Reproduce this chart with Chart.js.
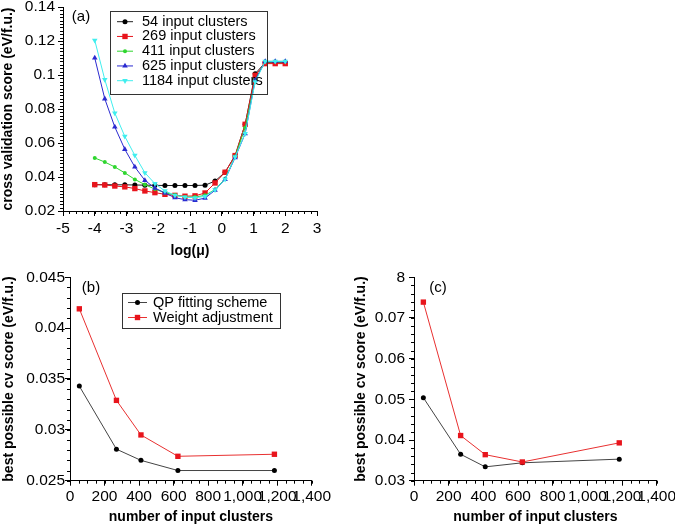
<!DOCTYPE html>
<html>
<head>
<meta charset="utf-8">
<script src="https://cdn.jsdelivr.net/npm/chart.js@4"></script>
<style>
  body { margin: 0; background: #fff; }
  #wrap { position: relative; width: 675px; height: 526px; }
  canvas { position: absolute; left: 0; top: 0; }
</style>
</head>
<body>
<div id="wrap">
  <canvas id="chartA" width="675" height="526"></canvas>
  <canvas id="chartB" width="675" height="526"></canvas>
  <canvas id="chartC" width="675" height="526"></canvas>
</div>
<script>
// panel (a): cv score vs log(mu)
const logMu = [-4, -3.684, -3.368, -3.053, -2.737, -2.421, -2.105, -1.789, -1.474, -1.158,
  -0.842, -0.526, -0.211, 0.105, 0.421, 0.737, 1.053, 1.368, 1.684, 2];
const cv54 = [0.0355, 0.0355, 0.0354, 0.0354, 0.0353, 0.0352, 0.0351, 0.0350, 0.0350, 0.0350,
  0.0350, 0.0352, 0.0376, 0.0428, 0.0526, 0.0710, 0.1008, 0.1072, 0.1072, 0.1072];
const cv269 = [0.0355, 0.0353, 0.0347, 0.0342, 0.0332, 0.0318, 0.0308, 0.0298, 0.0292, 0.0287,
  0.0289, 0.0306, 0.0365, 0.0428, 0.0526, 0.0710, 0.0998, 0.1067, 0.1067, 0.1067];
const cv411 = [0.0512, 0.0488, 0.0459, 0.0424, 0.0386, 0.0355, 0.0329, 0.0308, 0.0294, 0.0282,
  0.0282, 0.0292, 0.0326, 0.0390, 0.0520, 0.0690, 0.0970, 0.1080, 0.1080, 0.1080];
const cv625 = [0.1100, 0.0860, 0.0694, 0.0563, 0.0459, 0.0380, 0.0335, 0.0306, 0.0278, 0.0267,
  0.0263, 0.0276, 0.0322, 0.0386, 0.0514, 0.0655, 0.0970, 0.1080, 0.1080, 0.1080];
const cv1184 = [0.1204, 0.0973, 0.0776, 0.0639, 0.0527, 0.0425, 0.0361, 0.0318, 0.0292, 0.0282,
  0.0278, 0.0286, 0.0325, 0.0386, 0.0518, 0.0655, 0.0960, 0.1080, 0.1080, 0.1080];
const seriesA = ["54 input clusters", "269 input clusters", "411 input clusters",
  "625 input clusters", "1184 input clusters"];

// panels (b) and (c): best cv score vs number of clusters
const clusters = [54, 269, 411, 625, 1184];
const qpB = [0.0343, 0.0281, 0.0270, 0.0260, 0.0260];
const waB = [0.0419, 0.0329, 0.0295, 0.0274, 0.0276];
const qpC = [0.0504, 0.0365, 0.0334, 0.0344, 0.0353];
const waC = [0.0739, 0.0411, 0.0364, 0.0346, 0.0393];
const seriesBC = ["QP fitting scheme", "Weight adjustment"];

Chart.defaults.font.family = "'Liberation Sans', Arial, Helvetica, sans-serif";
Chart.defaults.color = '#000';

function pts(xs, ys) { return xs.map((x, i) => ({x: x, y: ys[i]})); }
function num(v) { return String(+v.toFixed(5)); }

// minor ticks + legend box + panel letter
const extras = {
  id: 'extras',
  afterDraw(chart, args, o) {
    const ctx = chart.ctx, xs = chart.scales.x, ys = chart.scales.y;
    ctx.save();
    ctx.strokeStyle = '#000';
    ctx.lineWidth = 1;
    ctx.beginPath();
    let n = Math.round((xs.max - xs.min) / o.minorX);
    for (let i = 0; i <= n; i++) {
      const px = Math.round(xs.getPixelForValue(xs.min + i * o.minorX)) + 0.5;
      ctx.moveTo(px, ys.bottom);
      ctx.lineTo(px, ys.bottom + 3);
    }
    n = Math.round((ys.max - ys.min) / o.minorY);
    for (let i = 0; i <= n; i++) {
      const py = Math.round(ys.getPixelForValue(ys.min + i * o.minorY)) + 0.5;
      ctx.moveTo(xs.left, py);
      ctx.lineTo(xs.left - 3, py);
    }
    ctx.stroke();

    ctx.font = "15px 'Liberation Sans', Arial, sans-serif";
    ctx.fillStyle = '#000';
    ctx.textAlign = 'center';
    ctx.textBaseline = 'middle';
    ctx.fillText(o.letter, o.lx, o.ly);

    const lg = o.legend;
    if (lg) {
      ctx.strokeStyle = '#333';
      ctx.strokeRect(lg.x + 0.5, lg.y + 0.5, lg.w, lg.h);
      ctx.font = "14.5px 'Liberation Sans', Arial, sans-serif";
      ctx.textAlign = 'left';
      chart.data.datasets.forEach((ds, i) => {
        const y = lg.y0 + i * lg.dy;
        ctx.strokeStyle = ds.borderColor;
        ctx.lineWidth = 1;
        ctx.beginPath();
        ctx.moveTo(lg.l0, y);
        ctx.lineTo(lg.l1, y);
        ctx.stroke();
        ctx.fillStyle = ds.pointBackgroundColor;
        ctx.strokeStyle = ds.pointBackgroundColor;
        Chart.helpers.drawPoint(ctx, {
          pointStyle: ds.pointStyle, rotation: ds.pointRotation || 0,
          radius: ds.pointRadius, borderWidth: 0
        }, (lg.l0 + lg.l1) / 2, y);
        ctx.fillStyle = '#000';
        ctx.fillText(ds.label, lg.tx, y);
      });
    }
    ctx.restore();
  }
};

function axisX(min, max, step, h, title, pad, fmt) {
  return {
    type: 'linear', min: min, max: max,
    afterFit: s => { s.height = h; s.paddingLeft = 0; s.paddingRight = 0; },
    ticks: { stepSize: step, padding: pad, autoSkip: false, maxRotation: 0, minRotation: 0,
      font: { size: 15.5 }, color: '#000', callback: fmt },
    grid: { drawOnChartArea: false, tickLength: 5, color: '#000' },
    border: { color: '#000', width: 1 },
    title: { display: true, text: title, font: { size: 14, weight: 'bold' }, padding: { top: 0, bottom: 0 } }
  };
}
function axisY(min, max, step, w, title, pad, fmt) {
  return {
    type: 'linear', min: min, max: max,
    afterFit: s => { s.width = w; s.paddingTop = 0; s.paddingBottom = 0; },
    ticks: { stepSize: step, padding: pad, autoSkip: false,
      font: { size: 15.5 }, color: '#000', callback: fmt },
    grid: { drawOnChartArea: false, tickLength: 5, color: '#000' },
    border: { color: '#000', width: 1 },
    title: { display: true, text: title, font: { size: 14, weight: 'bold' }, padding: { top: 0, bottom: 0 } }
  };
}
function line(label, xs, ys, color, mcolor, style, r, rot, order) {
  return {
    label: label, data: pts(xs, ys), borderColor: color, borderWidth: 1,
    pointStyle: style, pointRadius: r, pointRotation: rot, pointBorderWidth: 0,
    pointBackgroundColor: mcolor, pointBorderColor: mcolor, order: order, clip: false
  };
}
const base = {
  responsive: false, animation: false, events: [],
  plugins: { legend: { display: false }, tooltip: { enabled: false } }
};

const colA = ['#222222', '#e8141c', '#2fd62f', '#2a2ad0', '#40eeee'];
const mkA = ['#000000', '#e8141c', '#2fd62f', '#2a2ad0', '#40eeee'];
const styleA = [['circle', 2.5, 0], ['rect', 3.8, 0], ['circle', 2, 0], ['triangle', 3.2, 0], ['triangle', 3.2, 180]];
const valsA = [cv54, cv269, cv411, cv625, cv1184];

new Chart(document.getElementById('chartA'), {
  type: 'line',
  data: {
    datasets: seriesA.map((s, i) => line(s, logMu, valsA[i], colA[i], mkA[i],
      styleA[i][0], styleA[i][1], styleA[i][2], 5 - i))
  },
  options: Object.assign({}, base, {
    layout: { padding: { left: 0, top: 7, right: 358, bottom: 266.6 } },
    scales: {
      x: axisX(-5, 3, 1, 48.4, 'log(\u03bc)', 3, v => num(v)),
      y: axisY(0.02, 0.14, 0.02, 63, 'cross validation score (eV/f.u.)', 3, v => num(v))
    },
    plugins: Object.assign({}, base.plugins, {
      extras: { minorX: 0.2, minorY: 0.002, letter: '(a)', lx: 81, ly: 17,
        legend: { x: 110, y: 11, w: 157, h: 83, y0: 21.7, dy: 14.75, l0: 117, l1: 133, tx: 142 } }
    })
  }),
  plugins: [extras]
});

const fmtX = v => v.toLocaleString('en-US');

new Chart(document.getElementById('chartB'), {
  type: 'line',
  data: {
    datasets: [
      line(seriesBC[0], clusters, qpB, '#444444', '#000000', 'circle', 2.5, 0, 2),
      line(seriesBC[1], clusters, waB, '#e83030', '#e8141c', 'rect', 3.8, 0, 1)
    ]
  },
  options: Object.assign({}, base, {
    layout: { padding: { left: 1, top: 277.3, right: 363.3, bottom: 0.9 } },
    scales: {
      x: axisX(0, 1400, 200, 44.4, 'number of input clusters', 2, fmtX),
      y: axisY(0.025, 0.045, 0.005, 69, 'best possible cv score (eV/f.u.)', 0, v => num(v))
    },
    plugins: Object.assign({}, base.plugins, {
      extras: { minorX: 50, minorY: 0.001, letter: '(b)', lx: 91, ly: 288,
        legend: { x: 122, y: 293, w: 158, h: 35, y0: 302.5, dy: 15, l0: 128, l1: 147, tx: 153 } }
    })
  }),
  plugins: [extras]
});

new Chart(document.getElementById('chartC'), {
  type: 'line',
  data: {
    datasets: [
      line(seriesBC[0], clusters, qpC, '#444444', '#000000', 'circle', 2.5, 0, 2),
      line(seriesBC[1], clusters, waC, '#e83030', '#e8141c', 'rect', 3.8, 0, 1)
    ]
  },
  options: Object.assign({}, base, {
    layout: { padding: { left: 353, top: 277.3, right: 18.3, bottom: 0.9 } },
    scales: {
      x: axisX(0, 1400, 200, 44.4, 'number of input clusters', 2, fmtX),
      // the top label is cut to "8" in the original figure
      y: axisY(0.03, 0.08, 0.01, 61, 'best possible cv score (eV/f.u.)', 4,
        v => Math.abs(v - 0.08) < 1e-9 ? '8' : num(v))
    },
    plugins: Object.assign({}, base.plugins, {
      extras: { minorX: 50, minorY: 0.002, letter: '(c)', lx: 438, ly: 288 }
    })
  }),
  plugins: [extras]
});
</script>
</body>
</html>
